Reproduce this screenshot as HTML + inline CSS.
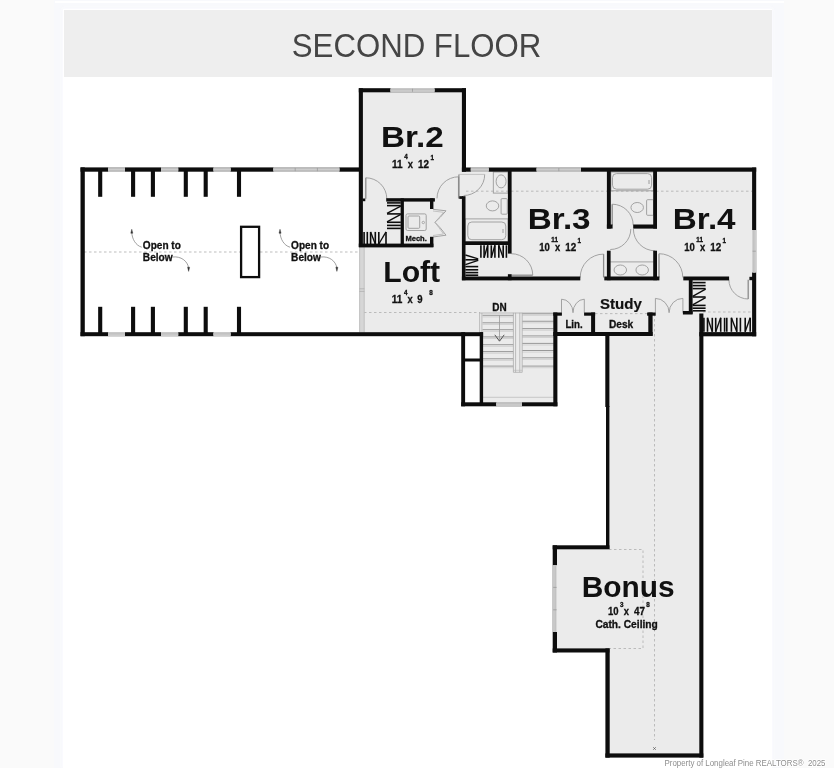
<!DOCTYPE html>
<html lang="en">
<head>
<meta charset="utf-8">
<title>Second Floor</title>
<style>
html,body{margin:0;padding:0;}
body{width:834px;height:768px;overflow:hidden;background:#fafafa;position:relative;font-family:"Liberation Sans",sans-serif;}
.outer{position:absolute;left:54px;top:0;width:730px;height:768px;background:#f8f9fc;}
.topline{position:absolute;left:55px;top:1px;width:729px;height:2px;background:#ffffff;}
.panel{position:absolute;left:63px;top:9px;width:709px;height:759px;background:#fff;box-shadow:0 0 3px 1px rgba(252,252,254,0.9);}
.header{position:absolute;left:64px;top:9.5px;width:708px;height:67px;background:#eeeeee;}
.title{position:absolute;left:0;top:0;}
svg{position:absolute;left:0;top:0;filter:blur(0.45px);}
svg text{font-family:"Liberation Sans",sans-serif;}
.wm{position:absolute;}
</style>
</head>
<body>
<div class="outer"></div>
<div class="topline"></div>
<div class="panel"></div>
<div class="header"></div>
<svg width="834" height="768" viewBox="0 0 834 768">
<text x="291.8" y="57.2" font-size="33.8" fill="#454545" textLength="249.5" lengthAdjust="spacingAndGlyphs">SECOND FLOOR</text>
<g fill="#ebebeb">
<rect x="361" y="90" width="103" height="82"/>
<rect x="361" y="169" width="393" height="165"/>
<rect x="481" y="333" width="74" height="71"/>
<rect x="608" y="333" width="94" height="422"/>
<rect x="555" y="547" width="54" height="103"/>
</g>
<line x1="84.00" y1="252.00" x2="240.00" y2="252.00" stroke="#b5b5b5" stroke-width="0.9" stroke-dasharray="2.5 2.5"/>
<line x1="260.00" y1="252.00" x2="360.00" y2="252.00" stroke="#b5b5b5" stroke-width="0.9" stroke-dasharray="2.5 2.5"/>
<line x1="364.00" y1="312.50" x2="480.00" y2="312.50" stroke="#b5b5b5" stroke-width="0.9" stroke-dasharray="2.5 2.5"/>
<line x1="466.00" y1="191.20" x2="752.00" y2="191.20" stroke="#b5b5b5" stroke-width="0.9" stroke-dasharray="2.5 2.5"/>
<line x1="654.50" y1="314.00" x2="654.50" y2="740.00" stroke="#b5b5b5" stroke-width="0.9" stroke-dasharray="2.5 2.5"/>
<line x1="703.00" y1="312.00" x2="752.00" y2="312.00" stroke="#b5b5b5" stroke-width="0.9" stroke-dasharray="2.5 2.5"/>
<line x1="595.00" y1="313.60" x2="649.00" y2="313.60" stroke="#b5b5b5" stroke-width="0.9" stroke-dasharray="2.5 2.5"/>
<path d="M609,549.5 H643 V648.5 H609" stroke="#b5b5b5" stroke-width="0.9" fill="none" stroke-dasharray="2.5 2.5"/>
<path d="M653.2,747.2 l2.6,2.6 m0,-2.6 l-2.6,2.6" stroke="#555" stroke-width="0.7" fill="none" />
<rect x="359.40" y="247.00" width="5.00" height="85.50" fill="#d6d6d6" />
<line x1="359.60" y1="247.00" x2="359.60" y2="332.50" stroke="#b4b4b4" stroke-width="0.7" />
<line x1="364.20" y1="247.00" x2="364.20" y2="332.50" stroke="#b4b4b4" stroke-width="0.7" />
<line x1="359.40" y1="288.80" x2="364.40" y2="288.80" stroke="#aaaaaa" stroke-width="0.7" />
<line x1="359.40" y1="291.40" x2="364.40" y2="291.40" stroke="#aaaaaa" stroke-width="0.7" />
<line x1="482.50" y1="315.30" x2="513.30" y2="315.30" stroke="#8e8e8e" stroke-width="0.9" />
<line x1="482.50" y1="316.90" x2="513.30" y2="316.90" stroke="#c0c0c0" stroke-width="0.6" />
<line x1="482.50" y1="322.80" x2="513.30" y2="322.80" stroke="#8e8e8e" stroke-width="0.9" />
<line x1="482.50" y1="324.40" x2="513.30" y2="324.40" stroke="#c0c0c0" stroke-width="0.6" />
<line x1="482.50" y1="329.70" x2="513.30" y2="329.70" stroke="#8e8e8e" stroke-width="0.9" />
<line x1="482.50" y1="331.30" x2="513.30" y2="331.30" stroke="#c0c0c0" stroke-width="0.6" />
<line x1="482.50" y1="336.90" x2="513.30" y2="336.90" stroke="#8e8e8e" stroke-width="0.9" />
<line x1="482.50" y1="338.50" x2="513.30" y2="338.50" stroke="#c0c0c0" stroke-width="0.6" />
<line x1="482.50" y1="344.70" x2="513.30" y2="344.70" stroke="#8e8e8e" stroke-width="0.9" />
<line x1="482.50" y1="346.30" x2="513.30" y2="346.30" stroke="#c0c0c0" stroke-width="0.6" />
<line x1="482.50" y1="351.60" x2="513.30" y2="351.60" stroke="#8e8e8e" stroke-width="0.9" />
<line x1="482.50" y1="353.20" x2="513.30" y2="353.20" stroke="#c0c0c0" stroke-width="0.6" />
<line x1="482.50" y1="358.75" x2="513.30" y2="358.75" stroke="#8e8e8e" stroke-width="0.9" />
<line x1="482.50" y1="360.35" x2="513.30" y2="360.35" stroke="#c0c0c0" stroke-width="0.6" />
<line x1="482.50" y1="366.10" x2="513.30" y2="366.10" stroke="#8e8e8e" stroke-width="0.9" />
<line x1="482.50" y1="367.70" x2="513.30" y2="367.70" stroke="#c0c0c0" stroke-width="0.6" />
<line x1="522.30" y1="313.75" x2="553.80" y2="313.75" stroke="#8e8e8e" stroke-width="0.9" />
<line x1="522.30" y1="315.35" x2="553.80" y2="315.35" stroke="#c0c0c0" stroke-width="0.6" />
<line x1="522.30" y1="321.25" x2="553.80" y2="321.25" stroke="#8e8e8e" stroke-width="0.9" />
<line x1="522.30" y1="322.85" x2="553.80" y2="322.85" stroke="#c0c0c0" stroke-width="0.6" />
<line x1="522.30" y1="328.60" x2="553.80" y2="328.60" stroke="#8e8e8e" stroke-width="0.9" />
<line x1="522.30" y1="330.20" x2="553.80" y2="330.20" stroke="#c0c0c0" stroke-width="0.6" />
<line x1="522.30" y1="335.90" x2="553.80" y2="335.90" stroke="#8e8e8e" stroke-width="0.9" />
<line x1="522.30" y1="337.50" x2="553.80" y2="337.50" stroke="#c0c0c0" stroke-width="0.6" />
<line x1="522.30" y1="343.40" x2="553.80" y2="343.40" stroke="#8e8e8e" stroke-width="0.9" />
<line x1="522.30" y1="345.00" x2="553.80" y2="345.00" stroke="#c0c0c0" stroke-width="0.6" />
<line x1="522.30" y1="350.50" x2="553.80" y2="350.50" stroke="#8e8e8e" stroke-width="0.9" />
<line x1="522.30" y1="352.10" x2="553.80" y2="352.10" stroke="#c0c0c0" stroke-width="0.6" />
<line x1="522.30" y1="357.80" x2="553.80" y2="357.80" stroke="#8e8e8e" stroke-width="0.9" />
<line x1="522.30" y1="359.40" x2="553.80" y2="359.40" stroke="#c0c0c0" stroke-width="0.6" />
<line x1="522.30" y1="366.10" x2="553.80" y2="366.10" stroke="#8e8e8e" stroke-width="0.9" />
<line x1="522.30" y1="367.70" x2="553.80" y2="367.70" stroke="#c0c0c0" stroke-width="0.6" />
<line x1="513.40" y1="312.80" x2="513.40" y2="372.30" stroke="#a5a5a5" stroke-width="0.7" />
<line x1="515.60" y1="312.80" x2="515.60" y2="372.30" stroke="#a5a5a5" stroke-width="0.7" />
<line x1="519.80" y1="312.80" x2="519.80" y2="372.30" stroke="#a5a5a5" stroke-width="0.7" />
<line x1="522.20" y1="312.80" x2="522.20" y2="372.30" stroke="#a5a5a5" stroke-width="0.7" />
<line x1="513.40" y1="372.30" x2="522.20" y2="372.30" stroke="#a5a5a5" stroke-width="0.7" />
<line x1="513.40" y1="370.30" x2="522.20" y2="370.30" stroke="#b5b5b5" stroke-width="0.6" />
<line x1="479.60" y1="313.00" x2="479.60" y2="332.50" stroke="#a8a8a8" stroke-width="0.7" />
<line x1="481.90" y1="313.00" x2="481.90" y2="332.50" stroke="#a8a8a8" stroke-width="0.7" />
<line x1="479.60" y1="313.00" x2="553.80" y2="313.00" stroke="#a8a8a8" stroke-width="0.7" />
<line x1="483.00" y1="397.30" x2="553.80" y2="397.30" stroke="#bdbdbd" stroke-width="0.8" />
<line x1="499.50" y1="315.30" x2="499.50" y2="341.00" stroke="#999" stroke-width="0.8" />
<path d="M494.8,334.8 L499.5,341.2 L504.2,334.8" stroke="#555" stroke-width="1.0" fill="none" />
<rect x="493.30" y="172.00" width="14.80" height="21.10" rx="0" fill="none" stroke="#9a9a9a" stroke-width="0.9"/>
<ellipse cx="501.10" cy="181.40" rx="5" ry="6.5" fill="none" stroke="#9a9a9a" stroke-width="0.9"/>
<ellipse cx="492.50" cy="205.90" rx="6.25" ry="5" fill="none" stroke="#9a9a9a" stroke-width="0.9"/>
<rect x="501.10" y="198.60" width="6.20" height="15.60" rx="1" fill="none" stroke="#9a9a9a" stroke-width="0.9"/>
<rect x="465.20" y="218.90" width="42.90" height="22.70" rx="0" fill="none" stroke="#9a9a9a" stroke-width="0.9"/>
<rect x="467.80" y="222.00" width="38.00" height="17.70" rx="4" fill="none" stroke="#9a9a9a" stroke-width="0.9"/>
<line x1="503.00" y1="229.00" x2="503.00" y2="233.00" stroke="#888" stroke-width="0.8" />
<rect x="610.90" y="172.00" width="42.70" height="18.80" rx="0" fill="none" stroke="#9a9a9a" stroke-width="0.9"/>
<rect x="612.50" y="173.60" width="39.10" height="15.60" rx="4" fill="none" stroke="#9a9a9a" stroke-width="0.9"/>
<line x1="649.00" y1="180.00" x2="649.00" y2="184.00" stroke="#888" stroke-width="0.8" />
<ellipse cx="637.20" cy="207.50" rx="6.25" ry="5" fill="none" stroke="#9a9a9a" stroke-width="0.9"/>
<rect x="646.60" y="199.70" width="7.00" height="15.60" rx="1" fill="none" stroke="#9a9a9a" stroke-width="0.9"/>
<line x1="610.30" y1="261.90" x2="653.60" y2="261.90" stroke="#9a9a9a" stroke-width="0.9" />
<ellipse cx="620.30" cy="270.00" rx="6.25" ry="5" fill="none" stroke="#9a9a9a" stroke-width="0.9"/>
<ellipse cx="642.20" cy="270.00" rx="6.25" ry="5" fill="none" stroke="#9a9a9a" stroke-width="0.9"/>
<rect x="406.00" y="213.90" width="20.20" height="16.60" rx="1.5" fill="none" stroke="#9a9a9a" stroke-width="0.9"/>
<rect x="408.00" y="216.00" width="11.70" height="12.30" rx="1" fill="none" stroke="#9a9a9a" stroke-width="0.9"/>
<circle cx="423.3" cy="222.5" r="1.2" fill="none" stroke="#9a9a9a" stroke-width="0.8"/>
<path d="M365.80,177.80 A21,21 0 0 1 386.80,198.80" stroke="#9a9a9a" stroke-width="0.9" fill="none" />
<line x1="365.80" y1="198.80" x2="365.80" y2="177.80" stroke="#8c8c8c" stroke-width="1.3" />
<path d="M458.60,176.80 A21.6,21.6 0 0 0 437.00,198.40" stroke="#9a9a9a" stroke-width="0.9" fill="none" />
<line x1="458.60" y1="198.40" x2="458.60" y2="176.80" stroke="#8c8c8c" stroke-width="1.3" />
<path d="M484.7,174.4 A21,21 0 0 1 463.6,195.5" stroke="#9a9a9a" stroke-width="0.9" fill="none" />
<line x1="458.90" y1="174.40" x2="458.90" y2="198.40" stroke="#8c8c8c" stroke-width="1.2" />
<line x1="458.90" y1="174.40" x2="484.70" y2="174.40" stroke="#b0b0b0" stroke-width="0.7" />
<path d="M511.25,253.70 A21.5,21.5 0 0 1 532.75,275.20" stroke="#9a9a9a" stroke-width="0.9" fill="none" />
<line x1="511.25" y1="275.20" x2="532.75" y2="275.20" stroke="#8c8c8c" stroke-width="1.3" />
<path d="M580.20,277.50 A23.4,23.4 0 0 1 603.60,254.10" stroke="#9a9a9a" stroke-width="0.9" fill="none" />
<line x1="603.60" y1="277.50" x2="603.60" y2="254.10" stroke="#8c8c8c" stroke-width="1.3" />
<path d="M659.00,253.70 A23.8,23.8 0 0 1 682.80,277.50" stroke="#9a9a9a" stroke-width="0.9" fill="none" />
<line x1="659.00" y1="277.50" x2="659.00" y2="253.70" stroke="#8c8c8c" stroke-width="1.3" />
<path d="M612.20,204.20 A21,21 0 0 1 633.20,225.20" stroke="#9a9a9a" stroke-width="0.9" fill="none" />
<line x1="612.20" y1="225.20" x2="612.20" y2="204.20" stroke="#8c8c8c" stroke-width="1.3" />
<path d="M630.8,229 A20.5,20.5 0 0 1 610.3,249.5" stroke="#9a9a9a" stroke-width="0.9" fill="none" />
<path d="M633.4,229 A21.8,21.8 0 0 0 655.2,250.8" stroke="#9a9a9a" stroke-width="0.9" fill="none" />
<path d="M728.90,279.70 A19.3,19.3 0 0 0 748.20,299.00" stroke="#9a9a9a" stroke-width="0.9" fill="none" />
<line x1="748.20" y1="279.70" x2="748.20" y2="299.00" stroke="#8c8c8c" stroke-width="1.3" />
<path d="M433,209.3 L446,210.8 Q440,218 434.9,222.3 Q440,227 446,235.2 L433,237" stroke="#9a9a9a" stroke-width="0.9" fill="none" />
<path d="M433,211 L443.5,212.3 Q438.5,218.5 434.9,222.3" stroke="#b0b0b0" stroke-width="0.7" fill="none" />
<path d="M433,235.5 L443.5,234 Q438.5,227 434.9,222.3" stroke="#b0b0b0" stroke-width="0.7" fill="none" />
<path d="M561.5,312.7 V299.2 A11.5,13.5 0 0 1 573,312.7" stroke="#9a9a9a" stroke-width="0.9" fill="none" />
<path d="M584.3,312.7 V299.2 A11.5,13.5 0 0 0 573,312.7" stroke="#9a9a9a" stroke-width="0.9" fill="none" />
<path d="M655.4,312.7 V298.4 A13.7,14.3 0 0 1 669.1,312.7" stroke="#9a9a9a" stroke-width="0.9" fill="none" />
<path d="M682.9,312.7 V298.4 A13.7,14.3 0 0 0 669.1,312.7" stroke="#9a9a9a" stroke-width="0.9" fill="none" />
<line x1="387.00" y1="202.90" x2="400.80" y2="202.90" stroke="#0d0d0d" stroke-width="1.6" />
<line x1="387.00" y1="205.60" x2="400.80" y2="205.60" stroke="#0d0d0d" stroke-width="1.6" />
<line x1="387.00" y1="213.90" x2="400.80" y2="213.90" stroke="#0d0d0d" stroke-width="1.6" />
<line x1="387.00" y1="222.30" x2="400.80" y2="222.30" stroke="#0d0d0d" stroke-width="1.6" />
<line x1="387.00" y1="225.40" x2="400.80" y2="225.40" stroke="#0d0d0d" stroke-width="1.6" />
<line x1="387.00" y1="228.40" x2="400.80" y2="228.40" stroke="#0d0d0d" stroke-width="1.6" />
<line x1="387.00" y1="213.40" x2="400.80" y2="206.20" stroke="#0d0d0d" stroke-width="1.35" />
<line x1="387.00" y1="221.80" x2="400.80" y2="214.40" stroke="#0d0d0d" stroke-width="1.35" />
<line x1="364.10" y1="231.90" x2="364.10" y2="244.00" stroke="#0d0d0d" stroke-width="1.6" />
<line x1="367.30" y1="231.90" x2="367.30" y2="244.00" stroke="#0d0d0d" stroke-width="1.6" />
<line x1="370.60" y1="231.90" x2="370.60" y2="244.00" stroke="#0d0d0d" stroke-width="1.6" />
<line x1="375.30" y1="231.90" x2="375.30" y2="244.00" stroke="#0d0d0d" stroke-width="1.6" />
<line x1="378.80" y1="231.90" x2="378.80" y2="244.00" stroke="#0d0d0d" stroke-width="1.6" />
<line x1="386.00" y1="231.90" x2="386.00" y2="244.00" stroke="#0d0d0d" stroke-width="1.6" />
<line x1="370.60" y1="231.90" x2="375.30" y2="244.00" stroke="#0d0d0d" stroke-width="1.35" />
<line x1="386.00" y1="231.90" x2="378.80" y2="244.00" stroke="#0d0d0d" stroke-width="1.35" />
<line x1="480.90" y1="245.30" x2="480.90" y2="257.80" stroke="#0d0d0d" stroke-width="1.6" />
<line x1="484.10" y1="245.30" x2="484.10" y2="257.80" stroke="#0d0d0d" stroke-width="1.6" />
<line x1="487.70" y1="245.30" x2="487.70" y2="257.80" stroke="#0d0d0d" stroke-width="1.6" />
<line x1="491.30" y1="245.30" x2="491.30" y2="257.80" stroke="#0d0d0d" stroke-width="1.6" />
<line x1="494.90" y1="245.30" x2="494.90" y2="257.80" stroke="#0d0d0d" stroke-width="1.6" />
<line x1="498.80" y1="245.30" x2="498.80" y2="257.80" stroke="#0d0d0d" stroke-width="1.6" />
<line x1="503.20" y1="245.30" x2="503.20" y2="257.80" stroke="#0d0d0d" stroke-width="1.6" />
<line x1="506.40" y1="245.30" x2="506.40" y2="257.80" stroke="#0d0d0d" stroke-width="1.6" />
<line x1="487.70" y1="245.30" x2="484.10" y2="257.80" stroke="#0d0d0d" stroke-width="1.35" />
<line x1="494.90" y1="245.30" x2="491.30" y2="257.80" stroke="#0d0d0d" stroke-width="1.35" />
<line x1="498.80" y1="245.30" x2="503.20" y2="257.80" stroke="#0d0d0d" stroke-width="1.35" />
<line x1="465.40" y1="259.80" x2="478.20" y2="259.80" stroke="#0d0d0d" stroke-width="1.6" />
<line x1="465.40" y1="266.60" x2="478.20" y2="266.60" stroke="#0d0d0d" stroke-width="1.6" />
<line x1="465.40" y1="269.80" x2="478.20" y2="269.80" stroke="#0d0d0d" stroke-width="1.6" />
<line x1="465.40" y1="272.60" x2="478.20" y2="272.60" stroke="#0d0d0d" stroke-width="1.6" />
<line x1="465.40" y1="275.20" x2="478.20" y2="275.20" stroke="#0d0d0d" stroke-width="1.6" />
<line x1="465.40" y1="255.00" x2="478.20" y2="258.80" stroke="#0d0d0d" stroke-width="1.35" />
<line x1="465.40" y1="264.60" x2="478.20" y2="260.40" stroke="#0d0d0d" stroke-width="1.35" />
<line x1="692.60" y1="282.60" x2="705.60" y2="282.60" stroke="#0d0d0d" stroke-width="1.6" />
<line x1="692.60" y1="285.60" x2="705.60" y2="285.60" stroke="#0d0d0d" stroke-width="1.6" />
<line x1="692.60" y1="288.60" x2="705.60" y2="288.60" stroke="#0d0d0d" stroke-width="1.6" />
<line x1="692.60" y1="297.00" x2="705.60" y2="297.00" stroke="#0d0d0d" stroke-width="1.6" />
<line x1="692.60" y1="305.40" x2="705.60" y2="305.40" stroke="#0d0d0d" stroke-width="1.6" />
<line x1="692.60" y1="308.20" x2="705.60" y2="308.20" stroke="#0d0d0d" stroke-width="1.6" />
<line x1="692.60" y1="310.80" x2="705.60" y2="310.80" stroke="#0d0d0d" stroke-width="1.6" />
<line x1="692.60" y1="296.40" x2="705.60" y2="289.20" stroke="#0d0d0d" stroke-width="1.35" />
<line x1="692.60" y1="304.80" x2="705.60" y2="297.60" stroke="#0d0d0d" stroke-width="1.35" />
<line x1="703.90" y1="317.80" x2="703.90" y2="331.80" stroke="#0d0d0d" stroke-width="1.6" />
<line x1="707.50" y1="317.80" x2="707.50" y2="331.80" stroke="#0d0d0d" stroke-width="1.6" />
<line x1="712.30" y1="317.80" x2="712.30" y2="331.80" stroke="#0d0d0d" stroke-width="1.6" />
<line x1="715.70" y1="317.80" x2="715.70" y2="331.80" stroke="#0d0d0d" stroke-width="1.6" />
<line x1="720.70" y1="317.80" x2="720.70" y2="331.80" stroke="#0d0d0d" stroke-width="1.6" />
<line x1="724.60" y1="317.80" x2="724.60" y2="331.80" stroke="#0d0d0d" stroke-width="1.6" />
<line x1="726.80" y1="317.80" x2="726.80" y2="331.80" stroke="#0d0d0d" stroke-width="1.6" />
<line x1="731.40" y1="317.80" x2="731.40" y2="331.80" stroke="#0d0d0d" stroke-width="1.6" />
<line x1="736.80" y1="317.80" x2="736.80" y2="331.80" stroke="#0d0d0d" stroke-width="1.6" />
<line x1="740.40" y1="317.80" x2="740.40" y2="331.80" stroke="#0d0d0d" stroke-width="1.6" />
<line x1="745.20" y1="317.80" x2="745.20" y2="331.80" stroke="#0d0d0d" stroke-width="1.6" />
<line x1="750.20" y1="317.80" x2="750.20" y2="331.80" stroke="#0d0d0d" stroke-width="1.6" />
<line x1="707.50" y1="317.80" x2="712.30" y2="331.80" stroke="#0d0d0d" stroke-width="1.35" />
<line x1="720.70" y1="317.80" x2="715.70" y2="331.80" stroke="#0d0d0d" stroke-width="1.35" />
<line x1="731.40" y1="317.80" x2="736.80" y2="331.80" stroke="#0d0d0d" stroke-width="1.35" />
<line x1="750.20" y1="317.80" x2="745.20" y2="331.80" stroke="#0d0d0d" stroke-width="1.35" />
<g fill="#0d0d0d">
<rect x="80.50" y="167.40" width="4.30" height="168.80" fill="#0d0d0d" />
<rect x="80.50" y="167.40" width="279.50" height="4.30" fill="#0d0d0d" />
<rect x="80.50" y="332.20" width="402.60" height="4.00" fill="#0d0d0d" />
<rect x="98.15" y="171.00" width="4.10" height="25.80" fill="#0d0d0d" />
<rect x="98.15" y="306.80" width="4.10" height="26.20" fill="#0d0d0d" />
<rect x="131.05" y="171.00" width="4.10" height="25.80" fill="#0d0d0d" />
<rect x="131.05" y="306.80" width="4.10" height="26.20" fill="#0d0d0d" />
<rect x="150.85" y="171.00" width="4.10" height="25.80" fill="#0d0d0d" />
<rect x="150.85" y="306.80" width="4.10" height="26.20" fill="#0d0d0d" />
<rect x="183.75" y="171.00" width="4.10" height="25.80" fill="#0d0d0d" />
<rect x="183.75" y="306.80" width="4.10" height="26.20" fill="#0d0d0d" />
<rect x="203.65" y="171.00" width="4.10" height="25.80" fill="#0d0d0d" />
<rect x="203.65" y="306.80" width="4.10" height="26.20" fill="#0d0d0d" />
<rect x="236.95" y="171.00" width="4.10" height="25.80" fill="#0d0d0d" />
<rect x="236.95" y="306.80" width="4.10" height="26.20" fill="#0d0d0d" />
<rect x="358.80" y="88.20" width="4.10" height="158.80" fill="#0d0d0d" />
<rect x="358.80" y="88.20" width="107.20" height="4.10" fill="#0d0d0d" />
<rect x="461.90" y="88.20" width="4.10" height="83.50" fill="#0d0d0d" />
<rect x="362.50" y="198.50" width="2.80" height="2.70" fill="#0d0d0d" />
<rect x="386.20" y="198.20" width="48.70" height="3.40" fill="#0d0d0d" />
<rect x="400.60" y="198.40" width="3.30" height="48.60" fill="#0d0d0d" />
<rect x="430.00" y="198.40" width="3.40" height="10.60" fill="#0d0d0d" />
<rect x="430.00" y="236.80" width="3.40" height="10.20" fill="#0d0d0d" />
<rect x="358.80" y="243.60" width="74.60" height="3.80" fill="#0d0d0d" />
<rect x="461.90" y="167.50" width="294.30" height="4.20" fill="#0d0d0d" />
<rect x="752.10" y="167.50" width="4.10" height="168.80" fill="#0d0d0d" />
<rect x="461.90" y="196.20" width="3.60" height="84.00" fill="#0d0d0d" />
<rect x="459.30" y="196.20" width="3.70" height="2.70" fill="#0d0d0d" />
<rect x="461.90" y="276.50" width="118.40" height="3.90" fill="#0d0d0d" />
<rect x="464.50" y="241.40" width="44.50" height="3.60" fill="#0d0d0d" />
<rect x="507.90" y="171.00" width="3.70" height="82.60" fill="#0d0d0d" />
<rect x="507.90" y="274.20" width="3.70" height="6.00" fill="#0d0d0d" />
<rect x="606.90" y="171.00" width="3.90" height="57.60" fill="#0d0d0d" />
<rect x="606.90" y="224.50" width="5.70" height="4.10" fill="#0d0d0d" />
<rect x="653.20" y="171.00" width="3.80" height="57.60" fill="#0d0d0d" />
<rect x="633.20" y="224.50" width="23.80" height="4.10" fill="#0d0d0d" />
<rect x="606.90" y="250.70" width="3.70" height="29.50" fill="#0d0d0d" />
<rect x="653.20" y="250.70" width="3.80" height="29.50" fill="#0d0d0d" />
<rect x="604.30" y="276.50" width="55.10" height="3.90" fill="#0d0d0d" />
<rect x="683.30" y="276.50" width="45.80" height="3.90" fill="#0d0d0d" />
<rect x="688.80" y="278.00" width="3.80" height="35.80" fill="#0d0d0d" />
<rect x="682.90" y="311.00" width="9.70" height="3.50" fill="#0d0d0d" />
<rect x="749.40" y="276.80" width="3.60" height="3.40" fill="#0d0d0d" />
<rect x="553.30" y="312.50" width="4.10" height="93.80" fill="#0d0d0d" />
<rect x="553.30" y="312.50" width="8.60" height="3.20" fill="#0d0d0d" />
<rect x="584.10" y="312.50" width="11.00" height="3.20" fill="#0d0d0d" />
<rect x="591.10" y="312.50" width="4.00" height="23.30" fill="#0d0d0d" />
<rect x="648.30" y="312.50" width="4.30" height="23.30" fill="#0d0d0d" />
<rect x="647.10" y="312.50" width="8.60" height="3.20" fill="#0d0d0d" />
<rect x="553.30" y="332.00" width="99.30" height="4.00" fill="#0d0d0d" />
<rect x="461.20" y="332.20" width="3.90" height="74.10" fill="#0d0d0d" />
<rect x="479.70" y="332.20" width="3.40" height="71.80" fill="#0d0d0d" />
<rect x="463.00" y="358.50" width="18.00" height="3.00" fill="#0d0d0d" />
<rect x="461.20" y="402.30" width="96.20" height="4.00" fill="#0d0d0d" />
<rect x="605.30" y="334.00" width="4.10" height="73.00" fill="#0d0d0d" />
<rect x="606.00" y="406.00" width="3.40" height="143.00" fill="#0d0d0d" />
<rect x="552.70" y="545.30" width="56.70" height="4.00" fill="#0d0d0d" />
<rect x="552.70" y="545.30" width="4.30" height="107.20" fill="#0d0d0d" />
<rect x="552.70" y="648.40" width="56.70" height="4.10" fill="#0d0d0d" />
<rect x="605.40" y="648.40" width="4.30" height="109.20" fill="#0d0d0d" />
<rect x="605.40" y="753.40" width="97.90" height="4.20" fill="#0d0d0d" />
<rect x="699.30" y="313.50" width="4.10" height="444.10" fill="#0d0d0d" />
<rect x="699.30" y="332.10" width="56.90" height="4.20" fill="#0d0d0d" />
</g>
<rect x="108.10" y="167.40" width="16.90" height="4.30" fill="#f4f4f4" />
<rect x="108.10" y="167.90" width="16.90" height="3.30" fill="#bdbdbd" />
<line x1="108.10" y1="169.55" x2="125.00" y2="169.55" stroke="#cfcfcf" stroke-width="0.9" />
<rect x="108.10" y="332.20" width="16.90" height="4.00" fill="#f4f4f4" />
<rect x="108.10" y="332.70" width="16.90" height="3.00" fill="#bdbdbd" />
<line x1="108.10" y1="334.20" x2="125.00" y2="334.20" stroke="#cfcfcf" stroke-width="0.9" />
<rect x="161.00" y="167.40" width="17.20" height="4.30" fill="#f4f4f4" />
<rect x="161.00" y="167.90" width="17.20" height="3.30" fill="#bdbdbd" />
<line x1="161.00" y1="169.55" x2="178.20" y2="169.55" stroke="#cfcfcf" stroke-width="0.9" />
<rect x="161.00" y="332.20" width="17.20" height="4.00" fill="#f4f4f4" />
<rect x="161.00" y="332.70" width="17.20" height="3.00" fill="#bdbdbd" />
<line x1="161.00" y1="334.20" x2="178.20" y2="334.20" stroke="#cfcfcf" stroke-width="0.9" />
<rect x="213.50" y="167.40" width="17.10" height="4.30" fill="#f4f4f4" />
<rect x="213.50" y="167.90" width="17.10" height="3.30" fill="#bdbdbd" />
<line x1="213.50" y1="169.55" x2="230.60" y2="169.55" stroke="#cfcfcf" stroke-width="0.9" />
<rect x="213.50" y="332.20" width="17.10" height="4.00" fill="#f4f4f4" />
<rect x="213.50" y="332.70" width="17.10" height="3.00" fill="#bdbdbd" />
<line x1="213.50" y1="334.20" x2="230.60" y2="334.20" stroke="#cfcfcf" stroke-width="0.9" />
<rect x="273.40" y="167.40" width="66.00" height="4.30" fill="#f4f4f4" />
<rect x="273.40" y="167.90" width="66.00" height="3.30" fill="#bdbdbd" />
<line x1="273.40" y1="169.55" x2="339.40" y2="169.55" stroke="#cfcfcf" stroke-width="0.9" />
<rect x="390.50" y="88.20" width="44.00" height="4.10" fill="#f4f4f4" />
<rect x="390.50" y="88.70" width="44.00" height="3.10" fill="#bdbdbd" />
<line x1="390.50" y1="90.25" x2="434.50" y2="90.25" stroke="#cfcfcf" stroke-width="0.9" />
<rect x="470.80" y="167.50" width="17.90" height="4.20" fill="#f4f4f4" />
<rect x="470.80" y="168.00" width="17.90" height="3.20" fill="#bdbdbd" />
<line x1="470.80" y1="169.60" x2="488.70" y2="169.60" stroke="#cfcfcf" stroke-width="0.9" />
<rect x="536.60" y="167.50" width="44.40" height="4.20" fill="#f4f4f4" />
<rect x="536.60" y="168.00" width="44.40" height="3.20" fill="#bdbdbd" />
<line x1="536.60" y1="169.60" x2="581.00" y2="169.60" stroke="#cfcfcf" stroke-width="0.9" />
<rect x="752.10" y="230.00" width="4.10" height="42.50" fill="#f4f4f4" />
<rect x="752.60" y="230.00" width="3.10" height="42.50" fill="#bdbdbd" />
<line x1="754.15" y1="230.00" x2="754.15" y2="272.50" stroke="#cfcfcf" stroke-width="0.9" />
<rect x="496.30" y="402.30" width="25.70" height="4.00" fill="#f4f4f4" />
<rect x="496.30" y="402.80" width="25.70" height="3.00" fill="#bdbdbd" />
<line x1="496.30" y1="404.30" x2="522.00" y2="404.30" stroke="#cfcfcf" stroke-width="0.9" />
<rect x="552.70" y="565.20" width="4.30" height="66.80" fill="#f4f4f4" />
<rect x="553.20" y="565.20" width="3.30" height="66.80" fill="#bdbdbd" />
<line x1="554.85" y1="565.20" x2="554.85" y2="632.00" stroke="#cfcfcf" stroke-width="0.9" />
<line x1="295.20" y1="167.90" x2="295.20" y2="171.20" stroke="#9a9a9a" stroke-width="0.8" />
<line x1="317.40" y1="167.90" x2="317.40" y2="171.20" stroke="#9a9a9a" stroke-width="0.8" />
<line x1="412.50" y1="88.70" x2="412.50" y2="91.80" stroke="#9a9a9a" stroke-width="0.8" />
<line x1="558.80" y1="168.00" x2="558.80" y2="171.20" stroke="#9a9a9a" stroke-width="0.8" />
<line x1="553.20" y1="587.40" x2="556.60" y2="587.40" stroke="#9a9a9a" stroke-width="0.8" />
<line x1="553.20" y1="609.80" x2="556.60" y2="609.80" stroke="#9a9a9a" stroke-width="0.8" />
<line x1="752.60" y1="251.20" x2="755.80" y2="251.20" stroke="#9a9a9a" stroke-width="0.8" />
<rect x="241.1" y="226.8" width="18" height="50.3" fill="#fff" stroke="#0d0d0d" stroke-width="2.3"/>
<text x="291.10" y="249.40" font-size="10.3" font-weight="bold" fill="#111" text-anchor="start" textLength="38.00" lengthAdjust="spacingAndGlyphs"  stroke="#111" stroke-width="0.3">Open to</text>
<text x="291.10" y="260.90" font-size="10.3" font-weight="bold" fill="#111" text-anchor="start" textLength="29.80" lengthAdjust="spacingAndGlyphs"  stroke="#111" stroke-width="0.3">Below</text>
<path d="M290,247.2 C284,245.5 280.2,239 280,232" stroke="#777" stroke-width="0.7" fill="none" />
<path d="M279.0,233.2 L280,229.2 L281.1,233.2 Z" stroke="#333" stroke-width="0.4" fill="#333" />
<path d="M321,257 C329,256 336,261 336.8,268" stroke="#777" stroke-width="0.7" fill="none" />
<path d="M335.8,267.2 L336.9,271.4 L337.9,267.2 Z" stroke="#333" stroke-width="0.4" fill="#333" />
<text x="142.85" y="249.40" font-size="10.3" font-weight="bold" fill="#111" text-anchor="start" textLength="38.00" lengthAdjust="spacingAndGlyphs"  stroke="#111" stroke-width="0.3">Open to</text>
<text x="142.85" y="260.90" font-size="10.3" font-weight="bold" fill="#111" text-anchor="start" textLength="29.80" lengthAdjust="spacingAndGlyphs"  stroke="#111" stroke-width="0.3">Below</text>
<path d="M141.75,247.2 C135.75,245.5 131.95,239 131.75,232" stroke="#777" stroke-width="0.7" fill="none" />
<path d="M130.75,233.2 L131.75,229.2 L132.85000000000002,233.2 Z" stroke="#333" stroke-width="0.4" fill="#333" />
<path d="M172.75,257 C180.75,256 187.75,261 188.55,268" stroke="#777" stroke-width="0.7" fill="none" />
<path d="M187.55,267.2 L188.64999999999998,271.4 L189.64999999999998,267.2 Z" stroke="#333" stroke-width="0.4" fill="#333" />
<text x="381.00" y="146.80" font-size="29.5" font-weight="bold" fill="#111" text-anchor="start" textLength="62.80" lengthAdjust="spacingAndGlyphs" >Br.2</text>
<text x="527.80" y="228.90" font-size="29" font-weight="bold" fill="#111" text-anchor="start" textLength="62.80" lengthAdjust="spacingAndGlyphs" >Br.3</text>
<text x="672.80" y="228.90" font-size="29" font-weight="bold" fill="#111" text-anchor="start" textLength="62.80" lengthAdjust="spacingAndGlyphs" >Br.4</text>
<text x="383.20" y="281.80" font-size="29.3" font-weight="bold" fill="#111" text-anchor="start" textLength="57.00" lengthAdjust="spacingAndGlyphs" >Loft</text>
<text x="581.70" y="596.70" font-size="29.3" font-weight="bold" fill="#111" text-anchor="start" textLength="92.90" lengthAdjust="spacingAndGlyphs" >Bonus</text>
<text x="600.00" y="308.80" font-size="15.2" font-weight="bold" fill="#111" text-anchor="start" textLength="41.80" lengthAdjust="spacingAndGlyphs"  stroke="#111" stroke-width="0.2">Study</text>
<text x="565.40" y="328.00" font-size="10" font-weight="bold" fill="#111" text-anchor="start" textLength="17.30" lengthAdjust="spacingAndGlyphs"  stroke="#111" stroke-width="0.3">Lin.</text>
<text x="609.00" y="328.00" font-size="10" font-weight="bold" fill="#111" text-anchor="start" textLength="24.20" lengthAdjust="spacingAndGlyphs"  stroke="#111" stroke-width="0.3">Desk</text>
<text x="492.30" y="310.90" font-size="10" font-weight="bold" fill="#111" text-anchor="start" textLength="14.40" lengthAdjust="spacingAndGlyphs"  stroke="#111" stroke-width="0.3">DN</text>
<text x="405.40" y="241.40" font-size="7.6" font-weight="bold" fill="#111" text-anchor="start" textLength="21.40" lengthAdjust="spacingAndGlyphs"  stroke="#111" stroke-width="0.3">Mech.</text>
<text x="595.40" y="627.80" font-size="10" font-weight="bold" fill="#111" text-anchor="start" textLength="62.40" lengthAdjust="spacingAndGlyphs"  stroke="#111" stroke-width="0.3">Cath. Ceiling</text>
<text x="392.10" y="167.80" font-size="10.6" font-weight="bold" fill="#111" text-anchor="start" textLength="10.60" lengthAdjust="spacingAndGlyphs"  stroke="#111" stroke-width="0.3">11</text>
<text x="404.20" y="159.20" font-size="6.3" font-weight="bold" fill="#111" text-anchor="start"  stroke="#111" stroke-width="0.3">4</text>
<text x="407.80" y="167.80" font-size="10.6" font-weight="bold" fill="#111" text-anchor="start" textLength="5.20" lengthAdjust="spacingAndGlyphs"  stroke="#111" stroke-width="0.3">x</text>
<text x="418.10" y="167.80" font-size="10.6" font-weight="bold" fill="#111" text-anchor="start" textLength="11.00" lengthAdjust="spacingAndGlyphs"  stroke="#111" stroke-width="0.3">12</text>
<text x="430.40" y="159.50" font-size="6.3" font-weight="bold" fill="#111" text-anchor="start"  stroke="#111" stroke-width="0.3">1</text>
<text x="539.20" y="250.80" font-size="10.6" font-weight="bold" fill="#111" text-anchor="start" textLength="10.60" lengthAdjust="spacingAndGlyphs"  stroke="#111" stroke-width="0.3">10</text>
<text x="551.30" y="242.20" font-size="6.3" font-weight="bold" fill="#111" text-anchor="start"  stroke="#111" stroke-width="0.3">11</text>
<text x="554.90" y="250.80" font-size="10.6" font-weight="bold" fill="#111" text-anchor="start" textLength="5.20" lengthAdjust="spacingAndGlyphs"  stroke="#111" stroke-width="0.3">x</text>
<text x="565.20" y="250.80" font-size="10.6" font-weight="bold" fill="#111" text-anchor="start" textLength="11.00" lengthAdjust="spacingAndGlyphs"  stroke="#111" stroke-width="0.3">12</text>
<text x="577.50" y="242.50" font-size="6.3" font-weight="bold" fill="#111" text-anchor="start"  stroke="#111" stroke-width="0.3">1</text>
<text x="684.20" y="250.80" font-size="10.6" font-weight="bold" fill="#111" text-anchor="start" textLength="10.60" lengthAdjust="spacingAndGlyphs"  stroke="#111" stroke-width="0.3">10</text>
<text x="696.30" y="242.20" font-size="6.3" font-weight="bold" fill="#111" text-anchor="start"  stroke="#111" stroke-width="0.3">11</text>
<text x="699.90" y="250.80" font-size="10.6" font-weight="bold" fill="#111" text-anchor="start" textLength="5.20" lengthAdjust="spacingAndGlyphs"  stroke="#111" stroke-width="0.3">x</text>
<text x="710.20" y="250.80" font-size="10.6" font-weight="bold" fill="#111" text-anchor="start" textLength="11.00" lengthAdjust="spacingAndGlyphs"  stroke="#111" stroke-width="0.3">12</text>
<text x="722.50" y="242.50" font-size="6.3" font-weight="bold" fill="#111" text-anchor="start"  stroke="#111" stroke-width="0.3">1</text>
<text x="391.80" y="303.20" font-size="10.6" font-weight="bold" fill="#111" text-anchor="start" textLength="10.60" lengthAdjust="spacingAndGlyphs"  stroke="#111" stroke-width="0.3">11</text>
<text x="403.90" y="294.60" font-size="6.3" font-weight="bold" fill="#111" text-anchor="start"  stroke="#111" stroke-width="0.3">4</text>
<text x="407.50" y="303.20" font-size="10.6" font-weight="bold" fill="#111" text-anchor="start" textLength="5.20" lengthAdjust="spacingAndGlyphs"  stroke="#111" stroke-width="0.3">x</text>
<text x="417.20" y="303.20" font-size="10.6" font-weight="bold" fill="#111" text-anchor="start" textLength="5.30" lengthAdjust="spacingAndGlyphs"  stroke="#111" stroke-width="0.3">9</text>
<text x="429.20" y="294.90" font-size="6.3" font-weight="bold" fill="#111" text-anchor="start"  stroke="#111" stroke-width="0.3">8</text>
<text x="608.00" y="615.30" font-size="10.6" font-weight="bold" fill="#111" text-anchor="start" textLength="10.60" lengthAdjust="spacingAndGlyphs"  stroke="#111" stroke-width="0.3">10</text>
<text x="620.10" y="606.70" font-size="6.3" font-weight="bold" fill="#111" text-anchor="start"  stroke="#111" stroke-width="0.3">3</text>
<text x="623.70" y="615.30" font-size="10.6" font-weight="bold" fill="#111" text-anchor="start" textLength="5.20" lengthAdjust="spacingAndGlyphs"  stroke="#111" stroke-width="0.3">x</text>
<text x="634.00" y="615.30" font-size="10.6" font-weight="bold" fill="#111" text-anchor="start" textLength="11.00" lengthAdjust="spacingAndGlyphs"  stroke="#111" stroke-width="0.3">47</text>
<text x="646.30" y="607.00" font-size="6.3" font-weight="bold" fill="#111" text-anchor="start"  stroke="#111" stroke-width="0.3">8</text>
<text x="664.5" y="765.6" font-size="9" fill="#8e8e8e" stroke="#ffffff" stroke-width="1.6" paint-order="stroke" textLength="161" lengthAdjust="spacingAndGlyphs">Property of Longleaf Pine REALTORS®&#160;&#160;2025</text>
</svg>
</body>
</html>
